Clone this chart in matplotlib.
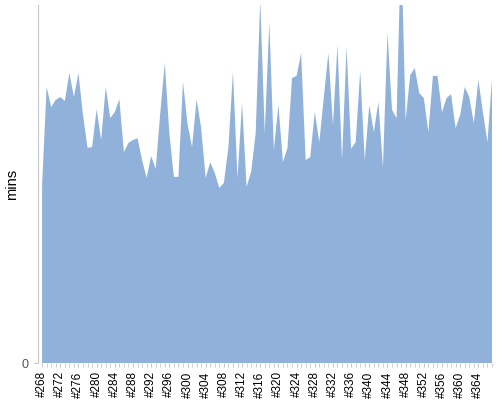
import matplotlib.pyplot as plt
import numpy as np

plt.rcParams['font.family'] = ['Liberation Sans', 'DejaVu Sans']

# build numbers #268 .. #367
builds = np.arange(268, 368)
mins = [49.7, 77.1, 71.5, 73.5, 74.3, 73.2, 81.0, 74.3, 81.0, 69.3,
        60.1, 60.3, 70.9, 62.3, 77.1, 68.4, 70.1, 73.7, 58.9, 61.5,
        62.3, 62.8, 56.7, 51.7, 57.8, 54.2, 69.8, 83.8, 64.2, 52.0,
        52.0, 78.5, 66.8, 60.3, 73.7, 65.6, 51.7, 56.1, 53.1, 48.9,
        50.3, 60.3, 81.3, 51.7, 72.6, 49.2, 53.4, 64.2, 101.5, 64.2,
        95.3, 59.5, 72.1, 56.1, 60.1, 79.6, 80.2, 86.6, 56.7, 57.5,
        70.1, 61.7, 74.3, 86.6, 66.5, 88.8, 56.7, 88.3, 59.8, 61.7,
        81.6, 56.7, 72.1, 64.5, 72.9, 54.7, 92.2, 70.7, 68.4, 118.0,
        67.9, 80.4, 82.4, 75.4, 74.0, 64.5, 80.2, 80.2, 70.1, 74.0,
        75.1, 65.6, 69.3, 77.1, 74.3, 67.0, 79.1, 70.1, 61.7, 79.1]
major_builds = builds[::4]
tick_labels = ['#%d' % b for b in major_builds]

fig = plt.figure(figsize=(5, 4), dpi=100)
ax = fig.add_axes([0.076, 0.0925, 0.908, 0.895])

ax.fill_between(builds, 0, mins, color='#90b2da', linewidth=0)
ax.set_xlim(267.1, 367)
ax.set_ylim(0, 100)

ax.set_xticks(major_builds)
ax.set_xticklabels(tick_labels, rotation=90, fontsize=8.5)
ax.set_xticks(builds, minor=True)
ax.tick_params(axis='x', which='both', length=3, color='#c8c8c8', pad=3)
ax.set_yticks([0])
ax.set_yticklabels(['0'], fontsize=9, color='#555555')
ax.tick_params(axis='y', length=3, color='#c8c8c8')
ax.set_ylabel('mins', fontsize=10.5)
ax.yaxis.set_label_coords(-0.042, 0.5)

for s in ['top', 'right', 'bottom']:
    ax.spines[s].set_visible(False)
ax.spines['left'].set_color('#c8c8c8')

fig.savefig('out.png', dpi=100)
